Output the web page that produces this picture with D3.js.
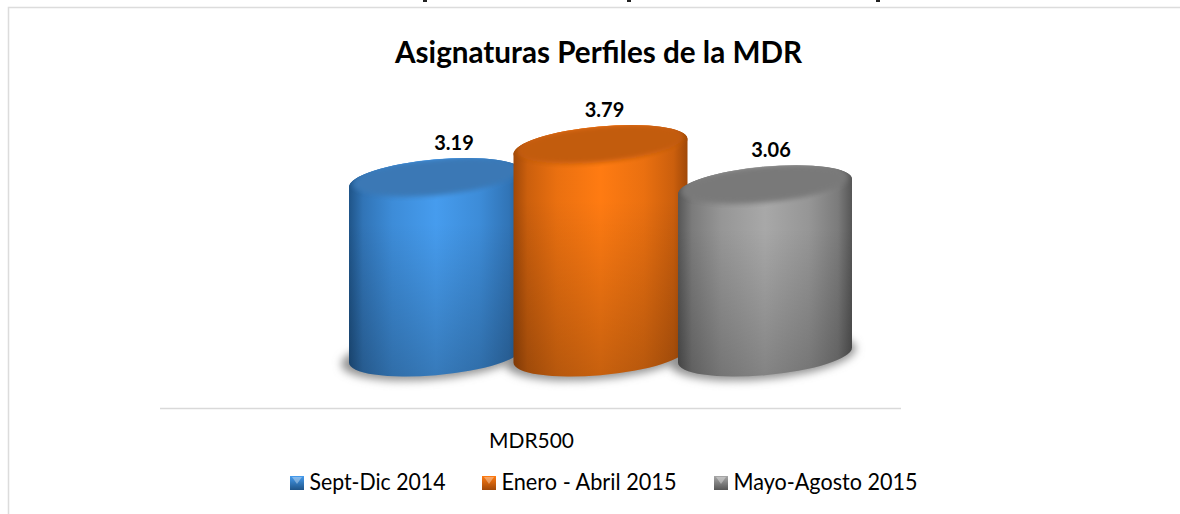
<!DOCTYPE html>
<html>
<head>
<meta charset="utf-8">
<style>
  html, body { margin: 0; padding: 0; background: #fff; }
  svg { display: block; }
  text { font-family: Lato, "Open Sans", sans-serif; fill: #000; }
</style>
<script src="https://cdnjs.cloudflare.com/ajax/libs/d3/7.8.5/d3.min.js"></script>
</head>
<body>
<script>
'use strict';

let chartTitle = 'Asignaturas Perfiles de la MDR';
let category = 'MDR500';
let seriesNames = ['Sept-Dic 2014', 'Enero - Abril 2015', 'Mayo-Agosto 2015'];
let seriesValues = [3.19, 3.79, 3.06];
let valueLabels = ['3.19', '3.79', '3.06'];

// edge, centre, cap
let palette = [
  ['#1f5488', '#469cee', '#3a78b5'],
  ['#a04808', '#ff7b12', '#c25c0d'],
  ['#565656', '#a8a8a8', '#797979']
];

let width = 1180;
let height = 514;

let svg = d3.select('body').append('svg')
  .attr('width', width)
  .attr('height', height);

let defs = svg.append('defs');

let x = d3.scaleBand().domain(seriesNames).range([353.75, 847.25]);
let y = d3.scaleLinear().domain([0, 4]).range([355, 135]);

let rx = 87.3;
let ry = 20.1;
let tilt = -5.2;
let halfW = 87;
let skew = 7.5;

defs.append('filter').attr('id', 'shadowBlur')
  .attr('x', '-20%').attr('y', '-40%').attr('width', '140%').attr('height', '180%')
  .append('feGaussianBlur').attr('stdDeviation', 4);
defs.append('filter').attr('id', 'capBlur')
  .attr('x', '-20%').attr('y', '-40%').attr('width', '140%').attr('height', '180%')
  .append('feGaussianBlur').attr('stdDeviation', 2.5);

let bottomShade = defs.append('linearGradient').attr('id', 'bottomShade')
  .attr('x1', 0).attr('y1', 0).attr('x2', 0).attr('y2', 1);
bottomShade.append('stop').attr('offset', 0.3).attr('stop-color', '#000').attr('stop-opacity', 0);
bottomShade.append('stop').attr('offset', 1).attr('stop-color', '#000').attr('stop-opacity', 0.22);

palette.forEach(function(c, i) {
  let mix = d3.interpolateRgb(c[0], c[1]);
  let body = defs.append('linearGradient').attr('id', 'body' + i)
    .attr('x1', 0).attr('y1', 0).attr('x2', 1).attr('y2', 0);
  [[0, c[0]], [0.08, mix(0.45)], [0.25, mix(0.78)], [0.5, c[1]], [0.75, mix(0.78)], [0.92, mix(0.45)], [1, c[0]]]
    .forEach(function(s) {
      body.append('stop').attr('offset', s[0]).attr('stop-color', s[1]);
    });

  let swatch = defs.append('linearGradient').attr('id', 'swatch' + i)
    .attr('x1', 0).attr('y1', 0).attr('x2', 0).attr('y2', 1);
  swatch.append('stop').attr('offset', 0).attr('stop-color', c[1]);
  swatch.append('stop').attr('offset', 1).attr('stop-color', c[0]);

  defs.append('clipPath').attr('id', 'capClip' + i)
    .append('ellipse')
      .attr('cx', x(seriesNames[i]) + x.bandwidth() / 2)
      .attr('cy', y(seriesValues[i]))
      .attr('rx', rx)
      .attr('ry', ry)
      .attr('transform', 'rotate(' + tilt + ' ' + (x(seriesNames[i]) + x.bandwidth() / 2) + ' ' + y(seriesValues[i]) + ')');
});

// frame, open on the right and the bottom
svg.append('path')
  .attr('d', 'M8.5,' + height + 'V7.5H' + width)
  .attr('fill', 'none')
  .attr('stroke', '#dcdcdc')
  .attr('stroke-width', 1.5);

// descenders of the line cropped above the chart
svg.selectAll('.crop')
  .data([423, 627, 876])
  .enter().append('rect')
    .attr('class', 'crop')
    .attr('x', function(d) { return d; })
    .attr('y', 0)
    .attr('width', 4)
    .attr('height', 2)
    .attr('fill', '#222');

svg.append('text')
  .attr('x', 395)
  .attr('y', 63)
  .attr('font-size', 31)
  .attr('font-weight', 700)
  .attr('textLength', 407)
  .attr('lengthAdjust', 'spacingAndGlyphs')
  .text(chartTitle);

// category axis
svg.append('line')
  .attr('x1', 160).attr('x2', 901)
  .attr('y1', 408.5).attr('y2', 408.5)
  .attr('stroke', '#d9d9d9')
  .attr('stroke-width', 1.5);

svg.append('text')
  .attr('x', 489)
  .attr('y', 448)
  .attr('font-size', 22)
  .attr('textLength', 85)
  .attr('lengthAdjust', 'spacingAndGlyphs')
  .text(category);

let bars = d3.range(seriesNames.length).map(function(i) {
  return {
    i: i,
    cx: x(seriesNames[i]) + x.bandwidth() / 2,
    top: y(seriesValues[i]),
    base: y(0),
    label: valueLabels[i]
  };
});

// shadows go under every cylinder
svg.append('g').selectAll('ellipse')
  .data(bars)
  .enter().append('ellipse')
    .attr('cx', function(d) { return d.cx - 2; })
    .attr('cy', function(d) { return d.base + 1; })
    .attr('rx', rx + 6)
    .attr('ry', ry + 3)
    .attr('transform', function(d) { return 'rotate(' + tilt + ' ' + d.cx + ' ' + d.base + ')'; })
    .attr('fill', '#808080')
    .attr('fill-opacity', 0.85)
    .attr('filter', 'url(#shadowBlur)');

let bodyPath = function(d) {
  return 'M' + (d.cx - halfW) + ',' + (d.top + skew) +
    'L' + (d.cx - halfW) + ',' + (d.base + skew) +
    'A' + rx + ',' + ry + ' ' + tilt + ' 0 0 ' + (d.cx + halfW) + ',' + (d.base - skew) +
    'L' + (d.cx + halfW) + ',' + (d.top - skew) +
    'A' + rx + ',' + ry + ' ' + tilt + ' 0 0 ' + (d.cx - halfW) + ',' + (d.top + skew) + 'Z';
};

let bar = svg.append('g').selectAll('g')
  .data(bars)
  .enter().append('g');

bar.append('path')
  .attr('d', bodyPath)
  .attr('fill', function(d) { return 'url(#body' + d.i + ')'; });

bar.append('path')
  .attr('d', bodyPath)
  .attr('fill', 'url(#bottomShade)');

let capEllipse = function(sel, dy, dRx, dRy) {
  sel.attr('cx', function(d) { return d.cx; })
    .attr('cy', function(d) { return d.top + dy; })
    .attr('rx', rx + dRx)
    .attr('ry', ry + dRy)
    .attr('transform', function(d) { return 'rotate(' + tilt + ' ' + d.cx + ' ' + d.top + ')'; });
};

bar.append('ellipse')
  .call(capEllipse, 0, 0, 0)
  .attr('fill', function(d) { return 'url(#body' + d.i + ')'; });

bar.append('g')
  .attr('clip-path', function(d) { return 'url(#capClip' + d.i + ')'; })
  .append('ellipse')
    .call(capEllipse, -2.5, -4, -2)
    .attr('fill', function(d) { return palette[d.i][2]; })
    .attr('filter', 'url(#capBlur)');

// value labels sit off centre in the original
let labelShift = [18, 4, 6];
svg.append('g').selectAll('text')
  .data(bars)
  .enter().append('text')
    .attr('x', function(d) { return d.cx + labelShift[d.i]; })
    .attr('y', function(d) { return d.top - 30; })
    .attr('text-anchor', 'middle')
    .attr('font-size', 20)
    .attr('font-weight', 700)
    .text(function(d) { return d.label; });

// legend
let legendX = d3.scaleOrdinal().domain(seriesNames).range([290, 482, 714]);
let legendW = d3.scaleOrdinal().domain(seriesNames).range([136, 175, 184]);
let legend = svg.append('g').selectAll('g')
  .data(seriesNames)
  .enter().append('g')
    .attr('transform', function(d) { return 'translate(' + legendX(d) + ',476)'; });

legend.append('rect')
  .attr('width', 14)
  .attr('height', 14)
  .attr('fill', function(d, i) { return 'url(#swatch' + i + ')'; });

legend.append('path')
  .attr('d', 'M2,1H12L7,8Z')
  .attr('fill', '#fff')
  .attr('fill-opacity', 0.35);

legend.append('text')
  .attr('x', 19.5)
  .attr('y', 13.5)
  .attr('font-size', 23)
  .attr('textLength', function(d) { return legendW(d); })
  .attr('lengthAdjust', 'spacingAndGlyphs')
  .text(function(d) { return d; });
</script>
</body>
</html>
